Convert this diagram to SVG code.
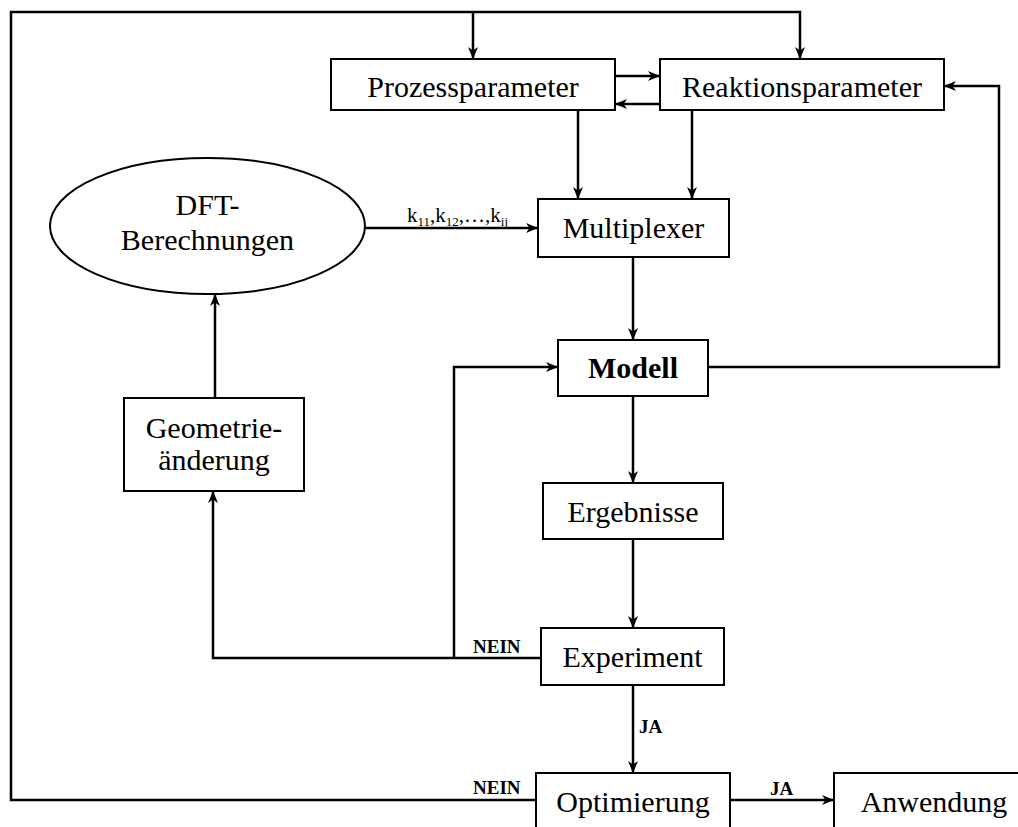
<svg xmlns="http://www.w3.org/2000/svg" width="1018" height="827" viewBox="0 0 1018 827">
  <style>
    .box { fill: #fff; stroke: #000; stroke-width: 2; }
    .lbl { font-family: "Liberation Serif", "Times New Roman", serif; font-size: 30px; fill: #000; text-anchor: middle; }
    .bold { font-weight: bold; }
    .edge { fill: none; stroke: #000; stroke-width: 2.5; }
    .tag { font-family: "Liberation Serif", "Times New Roman", serif; font-size: 19px; font-weight: bold; fill: #000; }
    .k { font-family: "Liberation Serif", "Times New Roman", serif; font-size: 21px; fill: #000; }
  </style>
  <defs>
    <marker id="arr" viewBox="0 0 12 10" refX="12" refY="5" markerWidth="12" markerHeight="10" markerUnits="userSpaceOnUse" orient="auto">
      <path d="M0,0 L12,5 L0,10 L3.5,5 z" fill="#000"/>
    </marker>
  </defs>

  <rect width="1018" height="827" fill="#fff"/>

  <g id="connectors">
    <!-- outer feedback loop from Optimierung (NEIN) to both parameter boxes -->
    <path class="edge" d="M536,800 H11 V12 H800 V59" marker-end="url(#arr)"/>
    <path class="edge" d="M473,12 V59" marker-end="url(#arr)"/>
    <!-- parameter exchange -->
    <path class="edge" d="M615,76 H660" marker-end="url(#arr)"/>
    <path class="edge" d="M660,104 H615" marker-end="url(#arr)"/>
    <!-- parameters into multiplexer -->
    <path class="edge" d="M578,110 V199" marker-end="url(#arr)"/>
    <path class="edge" d="M692,110 V199" marker-end="url(#arr)"/>
    <!-- DFT rate constants into multiplexer -->
    <path class="edge" d="M365,228 H538" marker-end="url(#arr)"/>
    <!-- multiplexer to model -->
    <path class="edge" d="M633,257 V340" marker-end="url(#arr)"/>
    <!-- model back to reaction parameters -->
    <path class="edge" d="M708,367 H999 V86 H944" marker-end="url(#arr)"/>
    <!-- model to results to experiment -->
    <path class="edge" d="M633,396 V483" marker-end="url(#arr)"/>
    <path class="edge" d="M633,539 V628" marker-end="url(#arr)"/>
    <!-- experiment NEIN branches -->
    <path class="edge" d="M541,658 H213 V491" marker-end="url(#arr)"/>
    <path class="edge" d="M454,658 V367 H558" marker-end="url(#arr)"/>
    <!-- geometry change to DFT -->
    <path class="edge" d="M215,398 V294" marker-end="url(#arr)"/>
    <!-- experiment JA to optimisation, optimisation JA to application -->
    <path class="edge" d="M633,685 V773" marker-end="url(#arr)"/>
    <path class="edge" d="M730,800 H834" marker-end="url(#arr)"/>

    <text class="k" x="407" y="222">k<tspan font-size="13" dy="4">11</tspan><tspan dy="-4">,k</tspan><tspan font-size="13" dy="4">12</tspan><tspan dy="-4">,…,k</tspan><tspan font-size="13" dy="4">ij</tspan></text>
    <text class="tag" x="473" y="653">NEIN</text>
    <text class="tag" x="473" y="794">NEIN</text>
    <text class="tag" x="639" y="733">JA</text>
    <text class="tag" x="770" y="795">JA</text>
  </g>

  <g id="prozessparameter">
    <rect class="box" x="331" y="59" width="284" height="51"/>
    <text class="lbl" x="473" y="97">Prozessparameter</text>
  </g>
  <g id="reaktionsparameter">
    <rect class="box" x="660" y="59" width="284" height="51"/>
    <text class="lbl" x="802" y="97">Reaktionsparameter</text>
  </g>
  <g id="dft">
    <ellipse class="box" cx="207.5" cy="226" rx="157.5" ry="68"/>
    <text class="lbl" x="207.5" y="215">DFT-</text>
    <text class="lbl" x="207.5" y="250">Berechnungen</text>
  </g>
  <g id="multiplexer">
    <rect class="box" x="538" y="199" width="191" height="58"/>
    <text class="lbl" x="633.5" y="238">Multiplexer</text>
  </g>
  <g id="modell">
    <rect class="box" x="558" y="340" width="150" height="56"/>
    <text class="lbl bold" x="633" y="378">Modell</text>
  </g>
  <g id="geometrieaenderung">
    <rect class="box" x="124" y="398" width="180" height="93"/>
    <text class="lbl" x="214" y="438">Geometrie-</text>
    <text class="lbl" x="214" y="470">änderung</text>
  </g>
  <g id="ergebnisse">
    <rect class="box" x="543" y="483" width="180" height="56"/>
    <text class="lbl" x="633" y="522">Ergebnisse</text>
  </g>
  <g id="experiment">
    <rect class="box" x="541" y="628" width="183" height="57"/>
    <text class="lbl" x="632.5" y="667">Experiment</text>
  </g>
  <g id="optimierung">
    <rect class="box" x="536" y="773" width="194" height="70"/>
    <text class="lbl" x="633" y="812">Optimierung</text>
  </g>
  <g id="anwendung">
    <rect class="box" x="834" y="773" width="200" height="70"/>
    <text class="lbl" x="934" y="812">Anwendung</text>
  </g>
</svg>
